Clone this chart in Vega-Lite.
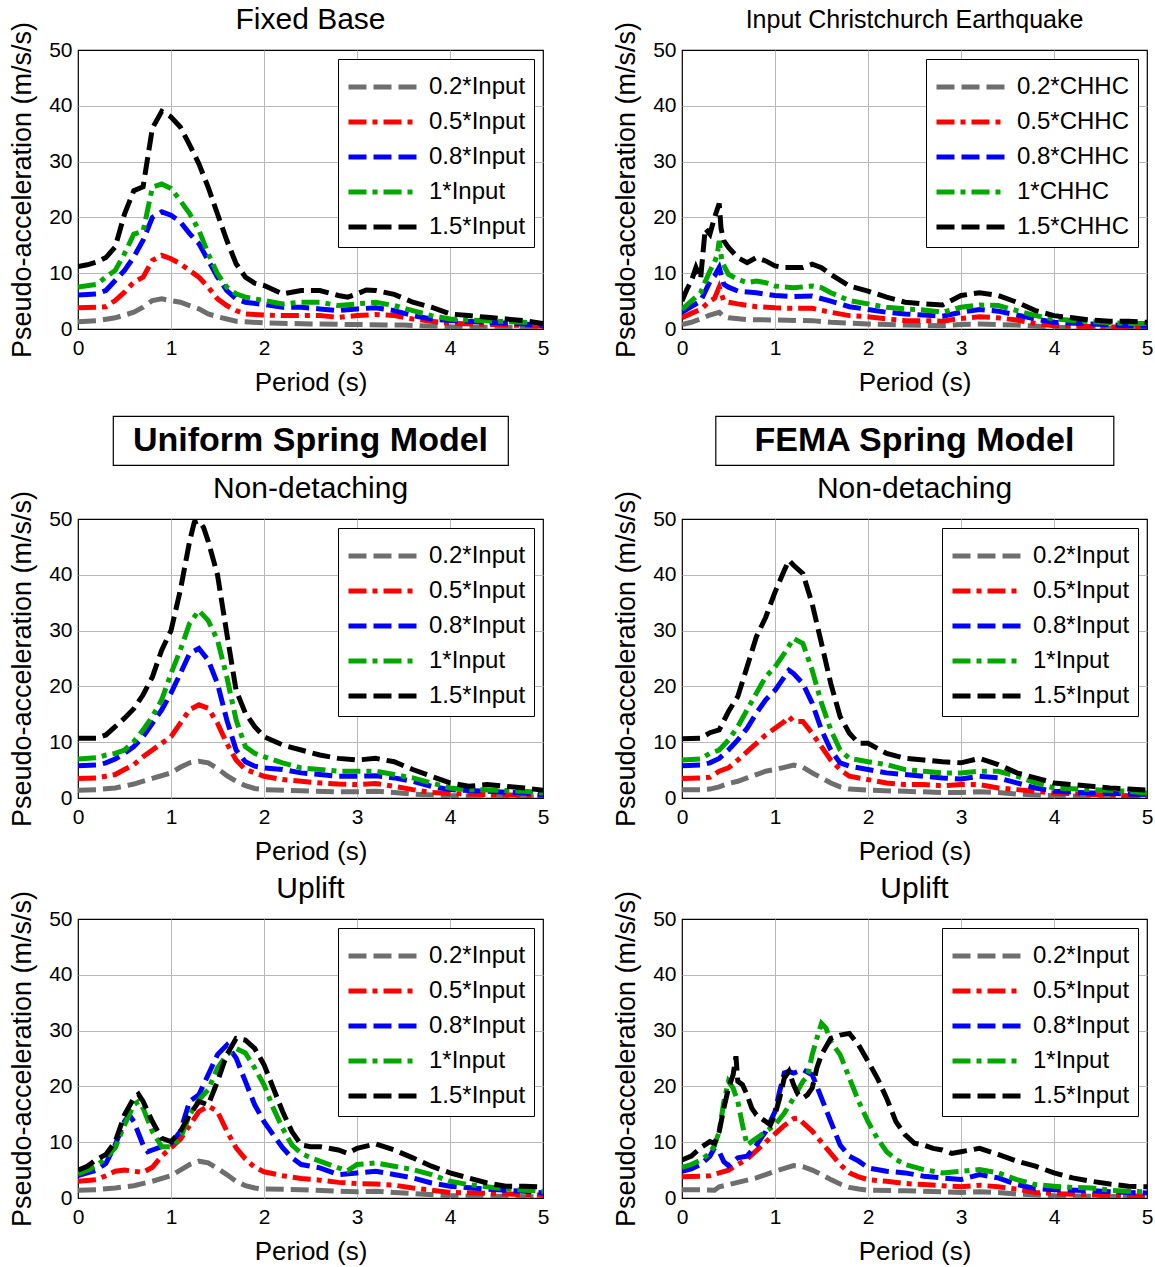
{
"$schema": "https://vega.github.io/schema/vega-lite/v6.json",
"padding": {"left": 8, "top": 4, "right": 5, "bottom": 0},
"background": "white",
"datasets": {
"fixed": [
{"s":"0.2","T":0,"Sa":1.3},{"s":"0.2","T":0.2,"Sa":1.5},{"s":"0.2","T":0.4,"Sa":2.0},{"s":"0.2","T":0.5,"Sa":2.5},{"s":"0.2","T":0.6,"Sa":3.0},{"s":"0.2","T":0.7,"Sa":3.9},{"s":"0.2","T":0.8,"Sa":5.1},{"s":"0.2","T":0.9,"Sa":5.4},{"s":"0.2","T":1.0,"Sa":5.1},{"s":"0.2","T":1.1,"Sa":4.8},{"s":"0.2","T":1.2,"Sa":4.2},{"s":"0.2","T":1.3,"Sa":3.6},{"s":"0.2","T":1.4,"Sa":2.7},{"s":"0.2","T":1.5,"Sa":2.2},{"s":"0.2","T":1.6,"Sa":1.8},{"s":"0.2","T":1.7,"Sa":1.4},{"s":"0.2","T":1.8,"Sa":1.3},{"s":"0.2","T":2.0,"Sa":1.1},{"s":"0.2","T":2.5,"Sa":0.9},{"s":"0.2","T":3.0,"Sa":0.8},{"s":"0.2","T":3.5,"Sa":0.7},{"s":"0.2","T":4.0,"Sa":0.4},{"s":"0.2","T":4.5,"Sa":0.3},{"s":"0.2","T":5.0,"Sa":0.2},
{"s":"0.5","T":0,"Sa":3.8},{"s":"0.5","T":0.2,"Sa":3.9},{"s":"0.5","T":0.3,"Sa":4.0},{"s":"0.5","T":0.4,"Sa":5.1},{"s":"0.5","T":0.5,"Sa":6.6},{"s":"0.5","T":0.6,"Sa":8.4},{"s":"0.5","T":0.7,"Sa":9.3},{"s":"0.5","T":0.8,"Sa":12.3},{"s":"0.5","T":0.9,"Sa":13.2},{"s":"0.5","T":1.0,"Sa":12.6},{"s":"0.5","T":1.1,"Sa":11.7},{"s":"0.5","T":1.2,"Sa":10.5},{"s":"0.5","T":1.3,"Sa":9.3},{"s":"0.5","T":1.4,"Sa":7.5},{"s":"0.5","T":1.5,"Sa":5.4},{"s":"0.5","T":1.6,"Sa":4.2},{"s":"0.5","T":1.7,"Sa":3.3},{"s":"0.5","T":1.8,"Sa":2.7},{"s":"0.5","T":2.0,"Sa":2.5},{"s":"0.5","T":2.2,"Sa":2.4},{"s":"0.5","T":2.4,"Sa":2.4},{"s":"0.5","T":2.6,"Sa":2.4},{"s":"0.5","T":2.8,"Sa":2.1},{"s":"0.5","T":3.0,"Sa":2.4},{"s":"0.5","T":3.2,"Sa":2.6},{"s":"0.5","T":3.4,"Sa":2.4},{"s":"0.5","T":3.6,"Sa":1.8},{"s":"0.5","T":3.8,"Sa":1.4},{"s":"0.5","T":4.0,"Sa":1.0},{"s":"0.5","T":4.5,"Sa":0.8},{"s":"0.5","T":5.0,"Sa":0.5},
{"s":"0.8","T":0,"Sa":6.1},{"s":"0.8","T":0.2,"Sa":6.3},{"s":"0.8","T":0.3,"Sa":6.9},{"s":"0.8","T":0.4,"Sa":8.7},{"s":"0.8","T":0.5,"Sa":10.5},{"s":"0.8","T":0.6,"Sa":12.9},{"s":"0.8","T":0.7,"Sa":15.9},{"s":"0.8","T":0.8,"Sa":20.0},{"s":"0.8","T":0.9,"Sa":21.0},{"s":"0.8","T":1.0,"Sa":20.4},{"s":"0.8","T":1.1,"Sa":19.2},{"s":"0.8","T":1.2,"Sa":17.1},{"s":"0.8","T":1.3,"Sa":15.3},{"s":"0.8","T":1.4,"Sa":12.3},{"s":"0.8","T":1.5,"Sa":9.3},{"s":"0.8","T":1.6,"Sa":6.9},{"s":"0.8","T":1.7,"Sa":5.4},{"s":"0.8","T":1.8,"Sa":4.8},{"s":"0.8","T":2.0,"Sa":4.4},{"s":"0.8","T":2.2,"Sa":3.9},{"s":"0.8","T":2.4,"Sa":3.9},{"s":"0.8","T":2.6,"Sa":3.6},{"s":"0.8","T":2.8,"Sa":3.3},{"s":"0.8","T":3.0,"Sa":3.6},{"s":"0.8","T":3.2,"Sa":3.8},{"s":"0.8","T":3.4,"Sa":3.3},{"s":"0.8","T":3.6,"Sa":2.4},{"s":"0.8","T":3.8,"Sa":1.8},{"s":"0.8","T":4.0,"Sa":1.5},{"s":"0.8","T":4.4,"Sa":1.2},{"s":"0.8","T":4.8,"Sa":0.9},{"s":"0.8","T":5.0,"Sa":0.6},
{"s":"1","T":0,"Sa":7.5},{"s":"1","T":0.2,"Sa":8.0},{"s":"1","T":0.3,"Sa":9.3},{"s":"1","T":0.4,"Sa":10.5},{"s":"1","T":0.5,"Sa":13.5},{"s":"1","T":0.6,"Sa":17.0},{"s":"1","T":0.7,"Sa":17.5},{"s":"1","T":0.8,"Sa":25.4},{"s":"1","T":0.9,"Sa":26.0},{"s":"1","T":1.0,"Sa":25.2},{"s":"1","T":1.1,"Sa":23.0},{"s":"1","T":1.2,"Sa":20.7},{"s":"1","T":1.3,"Sa":17.7},{"s":"1","T":1.4,"Sa":13.5},{"s":"1","T":1.5,"Sa":9.9},{"s":"1","T":1.6,"Sa":7.5},{"s":"1","T":1.7,"Sa":6.3},{"s":"1","T":1.8,"Sa":5.7},{"s":"1","T":2.0,"Sa":5.1},{"s":"1","T":2.2,"Sa":4.5},{"s":"1","T":2.4,"Sa":4.8},{"s":"1","T":2.6,"Sa":4.8},{"s":"1","T":2.8,"Sa":4.2},{"s":"1","T":3.0,"Sa":4.5},{"s":"1","T":3.2,"Sa":4.8},{"s":"1","T":3.4,"Sa":4.2},{"s":"1","T":3.6,"Sa":3.3},{"s":"1","T":3.8,"Sa":2.4},{"s":"1","T":4.0,"Sa":1.8},{"s":"1","T":4.2,"Sa":1.6},{"s":"1","T":4.5,"Sa":1.4},{"s":"1","T":4.8,"Sa":1.2},{"s":"1","T":5.0,"Sa":1.0},
{"s":"1.5","T":0,"Sa":11.2},{"s":"1.5","T":0.1,"Sa":11.5},{"s":"1.5","T":0.2,"Sa":12.0},{"s":"1.5","T":0.3,"Sa":12.8},{"s":"1.5","T":0.4,"Sa":14.7},{"s":"1.5","T":0.5,"Sa":20.6},{"s":"1.5","T":0.6,"Sa":24.8},{"s":"1.5","T":0.7,"Sa":25.5},{"s":"1.5","T":0.8,"Sa":36.0},{"s":"1.5","T":0.9,"Sa":39.0},{"s":"1.5","T":1.0,"Sa":38.0},{"s":"1.5","T":1.1,"Sa":36.2},{"s":"1.5","T":1.2,"Sa":33.0},{"s":"1.5","T":1.3,"Sa":29.6},{"s":"1.5","T":1.4,"Sa":25.4},{"s":"1.5","T":1.5,"Sa":20.6},{"s":"1.5","T":1.6,"Sa":15.9},{"s":"1.5","T":1.7,"Sa":11.7},{"s":"1.5","T":1.8,"Sa":9.3},{"s":"1.5","T":1.9,"Sa":8.2},{"s":"1.5","T":2.0,"Sa":7.8},{"s":"1.5","T":2.2,"Sa":6.3},{"s":"1.5","T":2.4,"Sa":6.9},{"s":"1.5","T":2.6,"Sa":6.9},{"s":"1.5","T":2.8,"Sa":6.0},{"s":"1.5","T":2.9,"Sa":5.7},{"s":"1.5","T":3.0,"Sa":6.3},{"s":"1.5","T":3.1,"Sa":7.0},{"s":"1.5","T":3.2,"Sa":6.9},{"s":"1.5","T":3.4,"Sa":6.2},{"s":"1.5","T":3.6,"Sa":4.8},{"s":"1.5","T":3.8,"Sa":3.9},{"s":"1.5","T":4.0,"Sa":2.7},{"s":"1.5","T":4.2,"Sa":2.4},{"s":"1.5","T":4.4,"Sa":2.1},{"s":"1.5","T":4.6,"Sa":1.8},{"s":"1.5","T":4.8,"Sa":1.5},{"s":"1.5","T":5.0,"Sa":1.0}
],
"chhc": [
{"s":"0.2","T":0,"Sa":0.8},{"s":"0.2","T":0.1,"Sa":1.2},{"s":"0.2","T":0.2,"Sa":1.8},{"s":"0.2","T":0.3,"Sa":2.5},{"s":"0.2","T":0.4,"Sa":3.0},{"s":"0.2","T":0.45,"Sa":2.2},{"s":"0.2","T":0.5,"Sa":2.0},{"s":"0.2","T":0.7,"Sa":1.7},{"s":"0.2","T":1.0,"Sa":1.6},{"s":"0.2","T":1.4,"Sa":1.5},{"s":"0.2","T":1.6,"Sa":1.2},{"s":"0.2","T":2.0,"Sa":0.9},{"s":"0.2","T":2.4,"Sa":0.7},{"s":"0.2","T":2.8,"Sa":0.6},{"s":"0.2","T":3.0,"Sa":0.8},{"s":"0.2","T":3.2,"Sa":0.9},{"s":"0.2","T":3.6,"Sa":0.7},{"s":"0.2","T":4.0,"Sa":0.3},{"s":"0.2","T":4.5,"Sa":0.2},{"s":"0.2","T":5.0,"Sa":0.1},
{"s":"0.5","T":0,"Sa":2.0},{"s":"0.5","T":0.1,"Sa":2.8},{"s":"0.5","T":0.2,"Sa":3.5},{"s":"0.5","T":0.3,"Sa":5.0},{"s":"0.5","T":0.35,"Sa":5.5},{"s":"0.5","T":0.4,"Sa":7.5},{"s":"0.5","T":0.45,"Sa":5.0},{"s":"0.5","T":0.5,"Sa":4.8},{"s":"0.5","T":0.6,"Sa":4.5},{"s":"0.5","T":0.8,"Sa":4.0},{"s":"0.5","T":1.0,"Sa":3.8},{"s":"0.5","T":1.2,"Sa":3.7},{"s":"0.5","T":1.4,"Sa":3.7},{"s":"0.5","T":1.6,"Sa":3.0},{"s":"0.5","T":1.8,"Sa":2.4},{"s":"0.5","T":2.0,"Sa":2.2},{"s":"0.5","T":2.2,"Sa":1.8},{"s":"0.5","T":2.4,"Sa":1.5},{"s":"0.5","T":2.6,"Sa":1.5},{"s":"0.5","T":2.8,"Sa":1.4},{"s":"0.5","T":3.0,"Sa":1.9},{"s":"0.5","T":3.2,"Sa":2.2},{"s":"0.5","T":3.4,"Sa":2.0},{"s":"0.5","T":3.6,"Sa":1.6},{"s":"0.5","T":3.8,"Sa":1.0},{"s":"0.5","T":4.0,"Sa":0.6},{"s":"0.5","T":4.5,"Sa":0.4},{"s":"0.5","T":5.0,"Sa":0.3},
{"s":"0.8","T":0,"Sa":3.0},{"s":"0.8","T":0.1,"Sa":4.0},{"s":"0.8","T":0.2,"Sa":5.0},{"s":"0.8","T":0.3,"Sa":8.5},{"s":"0.8","T":0.35,"Sa":9.5},{"s":"0.8","T":0.4,"Sa":11.0},{"s":"0.8","T":0.45,"Sa":8.0},{"s":"0.8","T":0.5,"Sa":7.5},{"s":"0.8","T":0.6,"Sa":6.8},{"s":"0.8","T":0.8,"Sa":6.5},{"s":"0.8","T":1.0,"Sa":6.0},{"s":"0.8","T":1.2,"Sa":5.8},{"s":"0.8","T":1.4,"Sa":5.9},{"s":"0.8","T":1.6,"Sa":5.0},{"s":"0.8","T":1.8,"Sa":4.0},{"s":"0.8","T":2.0,"Sa":3.5},{"s":"0.8","T":2.2,"Sa":3.0},{"s":"0.8","T":2.4,"Sa":2.7},{"s":"0.8","T":2.6,"Sa":2.5},{"s":"0.8","T":2.8,"Sa":2.3},{"s":"0.8","T":3.0,"Sa":3.0},{"s":"0.8","T":3.2,"Sa":3.5},{"s":"0.8","T":3.4,"Sa":3.2},{"s":"0.8","T":3.6,"Sa":2.5},{"s":"0.8","T":3.8,"Sa":1.8},{"s":"0.8","T":4.0,"Sa":1.2},{"s":"0.8","T":4.4,"Sa":0.9},{"s":"0.8","T":4.8,"Sa":0.6},{"s":"0.8","T":5.0,"Sa":0.5},
{"s":"1","T":0,"Sa":3.5},{"s":"1","T":0.1,"Sa":5.0},{"s":"1","T":0.2,"Sa":6.5},{"s":"1","T":0.25,"Sa":8.5},{"s":"1","T":0.3,"Sa":10.4},{"s":"1","T":0.35,"Sa":12.0},{"s":"1","T":0.38,"Sa":13.4},{"s":"1","T":0.4,"Sa":15.8},{"s":"1","T":0.43,"Sa":12.0},{"s":"1","T":0.5,"Sa":9.8},{"s":"1","T":0.6,"Sa":8.9},{"s":"1","T":0.7,"Sa":8.3},{"s":"1","T":0.8,"Sa":8.6},{"s":"1","T":0.9,"Sa":8.3},{"s":"1","T":1.0,"Sa":7.7},{"s":"1","T":1.2,"Sa":7.4},{"s":"1","T":1.4,"Sa":7.7},{"s":"1","T":1.5,"Sa":7.4},{"s":"1","T":1.6,"Sa":6.5},{"s":"1","T":1.8,"Sa":5.1},{"s":"1","T":2.0,"Sa":4.5},{"s":"1","T":2.2,"Sa":3.9},{"s":"1","T":2.4,"Sa":3.6},{"s":"1","T":2.6,"Sa":3.4},{"s":"1","T":2.8,"Sa":3.0},{"s":"1","T":3.0,"Sa":3.9},{"s":"1","T":3.2,"Sa":4.3},{"s":"1","T":3.4,"Sa":4.2},{"s":"1","T":3.6,"Sa":3.3},{"s":"1","T":3.8,"Sa":2.4},{"s":"1","T":4.0,"Sa":1.8},{"s":"1","T":4.4,"Sa":1.3},{"s":"1","T":4.8,"Sa":1.0},{"s":"1","T":5.0,"Sa":1.0},
{"s":"1.5","T":0,"Sa":5.0},{"s":"1.5","T":0.05,"Sa":7.0},{"s":"1.5","T":0.1,"Sa":8.6},{"s":"1.5","T":0.15,"Sa":11.0},{"s":"1.5","T":0.2,"Sa":9.0},{"s":"1.5","T":0.25,"Sa":18.0},{"s":"1.5","T":0.3,"Sa":17.0},{"s":"1.5","T":0.35,"Sa":20.0},{"s":"1.5","T":0.4,"Sa":22.5},{"s":"1.5","T":0.42,"Sa":18.0},{"s":"1.5","T":0.45,"Sa":15.8},{"s":"1.5","T":0.5,"Sa":14.6},{"s":"1.5","T":0.6,"Sa":12.8},{"s":"1.5","T":0.7,"Sa":11.9},{"s":"1.5","T":0.8,"Sa":12.8},{"s":"1.5","T":0.9,"Sa":12.2},{"s":"1.5","T":1.0,"Sa":11.3},{"s":"1.5","T":1.1,"Sa":11.0},{"s":"1.5","T":1.2,"Sa":11.0},{"s":"1.5","T":1.3,"Sa":11.0},{"s":"1.5","T":1.4,"Sa":11.6},{"s":"1.5","T":1.5,"Sa":11.0},{"s":"1.5","T":1.6,"Sa":9.8},{"s":"1.5","T":1.8,"Sa":7.7},{"s":"1.5","T":2.0,"Sa":6.8},{"s":"1.5","T":2.2,"Sa":5.7},{"s":"1.5","T":2.4,"Sa":4.8},{"s":"1.5","T":2.6,"Sa":4.5},{"s":"1.5","T":2.8,"Sa":4.3},{"s":"1.5","T":3.0,"Sa":6.0},{"s":"1.5","T":3.2,"Sa":6.5},{"s":"1.5","T":3.4,"Sa":6.0},{"s":"1.5","T":3.6,"Sa":4.8},{"s":"1.5","T":3.8,"Sa":3.3},{"s":"1.5","T":4.0,"Sa":2.4},{"s":"1.5","T":4.2,"Sa":2.0},{"s":"1.5","T":4.4,"Sa":1.6},{"s":"1.5","T":4.6,"Sa":1.4},{"s":"1.5","T":4.8,"Sa":1.4},{"s":"1.5","T":5.0,"Sa":1.2}
],
"uniNon": [
{"s":"0.2","T":0,"Sa":1.4},{"s":"0.2","T":0.2,"Sa":1.5},{"s":"0.2","T":0.4,"Sa":1.8},{"s":"0.2","T":0.6,"Sa":2.5},{"s":"0.2","T":0.8,"Sa":3.5},{"s":"0.2","T":1.0,"Sa":4.5},{"s":"0.2","T":1.1,"Sa":5.5},{"s":"0.2","T":1.2,"Sa":6.3},{"s":"0.2","T":1.3,"Sa":6.6},{"s":"0.2","T":1.4,"Sa":6.3},{"s":"0.2","T":1.5,"Sa":5.3},{"s":"0.2","T":1.6,"Sa":4.0},{"s":"0.2","T":1.7,"Sa":3.0},{"s":"0.2","T":1.8,"Sa":2.2},{"s":"0.2","T":1.9,"Sa":1.7},{"s":"0.2","T":2.0,"Sa":1.5},{"s":"0.2","T":2.4,"Sa":1.3},{"s":"0.2","T":2.8,"Sa":1.1},{"s":"0.2","T":3.0,"Sa":1.1},{"s":"0.2","T":3.2,"Sa":1.2},{"s":"0.2","T":3.4,"Sa":1.0},{"s":"0.2","T":3.6,"Sa":0.7},{"s":"0.2","T":4.0,"Sa":0.4},{"s":"0.2","T":4.5,"Sa":0.3},{"s":"0.2","T":5.0,"Sa":0.2},
{"s":"0.5","T":0,"Sa":3.5},{"s":"0.5","T":0.2,"Sa":3.6},{"s":"0.5","T":0.4,"Sa":4.2},{"s":"0.5","T":0.5,"Sa":5.1},{"s":"0.5","T":0.6,"Sa":6.0},{"s":"0.5","T":0.7,"Sa":7.4},{"s":"0.5","T":0.8,"Sa":8.6},{"s":"0.5","T":0.9,"Sa":9.8},{"s":"0.5","T":1.0,"Sa":11.0},{"s":"0.5","T":1.1,"Sa":13.4},{"s":"0.5","T":1.2,"Sa":15.8},{"s":"0.5","T":1.3,"Sa":16.7},{"s":"0.5","T":1.4,"Sa":16.1},{"s":"0.5","T":1.5,"Sa":13.4},{"s":"0.5","T":1.6,"Sa":9.8},{"s":"0.5","T":1.7,"Sa":6.8},{"s":"0.5","T":1.8,"Sa":5.1},{"s":"0.5","T":1.9,"Sa":4.5},{"s":"0.5","T":2.0,"Sa":3.9},{"s":"0.5","T":2.2,"Sa":3.3},{"s":"0.5","T":2.4,"Sa":3.0},{"s":"0.5","T":2.6,"Sa":2.7},{"s":"0.5","T":2.8,"Sa":2.5},{"s":"0.5","T":3.0,"Sa":2.4},{"s":"0.5","T":3.2,"Sa":2.6},{"s":"0.5","T":3.4,"Sa":2.1},{"s":"0.5","T":3.6,"Sa":1.5},{"s":"0.5","T":3.8,"Sa":1.0},{"s":"0.5","T":4.0,"Sa":0.8},{"s":"0.5","T":4.5,"Sa":0.6},{"s":"0.5","T":5.0,"Sa":0.4},
{"s":"0.8","T":0,"Sa":5.8},{"s":"0.8","T":0.2,"Sa":5.9},{"s":"0.8","T":0.3,"Sa":6.3},{"s":"0.8","T":0.4,"Sa":7.0},{"s":"0.8","T":0.5,"Sa":8.0},{"s":"0.8","T":0.6,"Sa":9.2},{"s":"0.8","T":0.7,"Sa":11.0},{"s":"0.8","T":0.8,"Sa":13.4},{"s":"0.8","T":0.9,"Sa":15.8},{"s":"0.8","T":1.0,"Sa":18.8},{"s":"0.8","T":1.1,"Sa":22.3},{"s":"0.8","T":1.2,"Sa":25.9},{"s":"0.8","T":1.3,"Sa":26.8},{"s":"0.8","T":1.4,"Sa":24.7},{"s":"0.8","T":1.5,"Sa":20.5},{"s":"0.8","T":1.6,"Sa":14.0},{"s":"0.8","T":1.7,"Sa":8.6},{"s":"0.8","T":1.8,"Sa":6.5},{"s":"0.8","T":1.9,"Sa":5.7},{"s":"0.8","T":2.0,"Sa":5.4},{"s":"0.8","T":2.2,"Sa":5.1},{"s":"0.8","T":2.4,"Sa":4.5},{"s":"0.8","T":2.6,"Sa":4.2},{"s":"0.8","T":2.8,"Sa":3.9},{"s":"0.8","T":3.0,"Sa":3.9},{"s":"0.8","T":3.2,"Sa":4.0},{"s":"0.8","T":3.4,"Sa":3.6},{"s":"0.8","T":3.6,"Sa":3.0},{"s":"0.8","T":3.8,"Sa":2.1},{"s":"0.8","T":4.0,"Sa":1.5},{"s":"0.8","T":4.4,"Sa":1.2},{"s":"0.8","T":4.8,"Sa":0.9},{"s":"0.8","T":5.0,"Sa":0.6},
{"s":"1","T":0,"Sa":7.0},{"s":"1","T":0.2,"Sa":7.2},{"s":"1","T":0.3,"Sa":7.7},{"s":"1","T":0.4,"Sa":8.0},{"s":"1","T":0.5,"Sa":8.6},{"s":"1","T":0.6,"Sa":10.1},{"s":"1","T":0.7,"Sa":12.2},{"s":"1","T":0.8,"Sa":14.6},{"s":"1","T":0.9,"Sa":17.6},{"s":"1","T":1.0,"Sa":22.3},{"s":"1","T":1.1,"Sa":26.5},{"s":"1","T":1.2,"Sa":31.3},{"s":"1","T":1.3,"Sa":33.6},{"s":"1","T":1.4,"Sa":31.8},{"s":"1","T":1.5,"Sa":28.3},{"s":"1","T":1.6,"Sa":21.7},{"s":"1","T":1.7,"Sa":14.0},{"s":"1","T":1.8,"Sa":9.2},{"s":"1","T":1.9,"Sa":8.0},{"s":"1","T":2.0,"Sa":7.4},{"s":"1","T":2.2,"Sa":6.3},{"s":"1","T":2.4,"Sa":5.4},{"s":"1","T":2.6,"Sa":5.1},{"s":"1","T":2.8,"Sa":4.8},{"s":"1","T":3.0,"Sa":4.8},{"s":"1","T":3.2,"Sa":4.8},{"s":"1","T":3.4,"Sa":4.2},{"s":"1","T":3.6,"Sa":3.6},{"s":"1","T":3.8,"Sa":2.7},{"s":"1","T":4.0,"Sa":1.8},{"s":"1","T":4.2,"Sa":1.5},{"s":"1","T":4.5,"Sa":1.4},{"s":"1","T":4.8,"Sa":1.2},{"s":"1","T":5.0,"Sa":0.9},
{"s":"1.5","T":0,"Sa":10.7},{"s":"1.5","T":0.2,"Sa":10.7},{"s":"1.5","T":0.3,"Sa":11.3},{"s":"1.5","T":0.4,"Sa":12.8},{"s":"1.5","T":0.5,"Sa":14.3},{"s":"1.5","T":0.6,"Sa":16.0},{"s":"1.5","T":0.7,"Sa":18.5},{"s":"1.5","T":0.8,"Sa":21.7},{"s":"1.5","T":0.9,"Sa":26.5},{"s":"1.5","T":1.0,"Sa":30.0},{"s":"1.5","T":1.1,"Sa":37.2},{"s":"1.5","T":1.2,"Sa":46.0},{"s":"1.5","T":1.25,"Sa":49.4},{"s":"1.5","T":1.3,"Sa":49.7},{"s":"1.5","T":1.35,"Sa":48.5},{"s":"1.5","T":1.4,"Sa":46.0},{"s":"1.5","T":1.5,"Sa":40.0},{"s":"1.5","T":1.6,"Sa":29.5},{"s":"1.5","T":1.7,"Sa":19.3},{"s":"1.5","T":1.8,"Sa":15.2},{"s":"1.5","T":1.9,"Sa":12.8},{"s":"1.5","T":2.0,"Sa":11.0},{"s":"1.5","T":2.2,"Sa":9.5},{"s":"1.5","T":2.4,"Sa":8.6},{"s":"1.5","T":2.6,"Sa":7.7},{"s":"1.5","T":2.8,"Sa":7.1},{"s":"1.5","T":3.0,"Sa":6.8},{"s":"1.5","T":3.2,"Sa":7.1},{"s":"1.5","T":3.4,"Sa":6.5},{"s":"1.5","T":3.6,"Sa":5.1},{"s":"1.5","T":3.8,"Sa":3.9},{"s":"1.5","T":4.0,"Sa":2.7},{"s":"1.5","T":4.2,"Sa":2.1},{"s":"1.5","T":4.4,"Sa":2.4},{"s":"1.5","T":4.6,"Sa":2.1},{"s":"1.5","T":4.8,"Sa":1.8},{"s":"1.5","T":5.0,"Sa":1.4}
],
"femaNon": [
{"s":"0.2","T":0,"Sa":1.5},{"s":"0.2","T":0.2,"Sa":1.5},{"s":"0.2","T":0.3,"Sa":1.6},{"s":"0.2","T":0.4,"Sa":2.0},{"s":"0.2","T":0.5,"Sa":2.6},{"s":"0.2","T":0.6,"Sa":3.0},{"s":"0.2","T":0.7,"Sa":3.6},{"s":"0.2","T":0.8,"Sa":4.2},{"s":"0.2","T":0.9,"Sa":4.8},{"s":"0.2","T":1.0,"Sa":5.1},{"s":"0.2","T":1.1,"Sa":5.5},{"s":"0.2","T":1.2,"Sa":5.9},{"s":"0.2","T":1.3,"Sa":5.5},{"s":"0.2","T":1.4,"Sa":4.5},{"s":"0.2","T":1.5,"Sa":3.6},{"s":"0.2","T":1.6,"Sa":2.7},{"s":"0.2","T":1.7,"Sa":2.0},{"s":"0.2","T":1.8,"Sa":1.6},{"s":"0.2","T":2.0,"Sa":1.4},{"s":"0.2","T":2.4,"Sa":1.2},{"s":"0.2","T":2.8,"Sa":1.0},{"s":"0.2","T":3.0,"Sa":1.0},{"s":"0.2","T":3.2,"Sa":1.1},{"s":"0.2","T":3.4,"Sa":1.0},{"s":"0.2","T":3.6,"Sa":0.7},{"s":"0.2","T":4.0,"Sa":0.4},{"s":"0.2","T":4.5,"Sa":0.3},{"s":"0.2","T":5.0,"Sa":0.2},
{"s":"0.5","T":0,"Sa":3.5},{"s":"0.5","T":0.2,"Sa":3.6},{"s":"0.5","T":0.3,"Sa":3.7},{"s":"0.5","T":0.4,"Sa":4.8},{"s":"0.5","T":0.5,"Sa":5.4},{"s":"0.5","T":0.6,"Sa":6.8},{"s":"0.5","T":0.7,"Sa":8.3},{"s":"0.5","T":0.8,"Sa":9.8},{"s":"0.5","T":0.9,"Sa":11.3},{"s":"0.5","T":1.0,"Sa":12.5},{"s":"0.5","T":1.1,"Sa":13.7},{"s":"0.5","T":1.15,"Sa":14.6},{"s":"0.5","T":1.2,"Sa":13.7},{"s":"0.5","T":1.3,"Sa":13.7},{"s":"0.5","T":1.4,"Sa":11.6},{"s":"0.5","T":1.5,"Sa":9.2},{"s":"0.5","T":1.6,"Sa":6.8},{"s":"0.5","T":1.7,"Sa":5.1},{"s":"0.5","T":1.8,"Sa":3.9},{"s":"0.5","T":2.0,"Sa":3.3},{"s":"0.5","T":2.2,"Sa":2.7},{"s":"0.5","T":2.4,"Sa":2.4},{"s":"0.5","T":2.6,"Sa":2.4},{"s":"0.5","T":2.8,"Sa":2.2},{"s":"0.5","T":3.0,"Sa":2.4},{"s":"0.5","T":3.2,"Sa":2.4},{"s":"0.5","T":3.4,"Sa":1.8},{"s":"0.5","T":3.6,"Sa":1.5},{"s":"0.5","T":3.8,"Sa":1.2},{"s":"0.5","T":4.0,"Sa":0.9},{"s":"0.5","T":4.5,"Sa":0.6},{"s":"0.5","T":5.0,"Sa":0.3},
{"s":"0.8","T":0,"Sa":5.8},{"s":"0.8","T":0.2,"Sa":5.9},{"s":"0.8","T":0.3,"Sa":6.3},{"s":"0.8","T":0.4,"Sa":7.1},{"s":"0.8","T":0.5,"Sa":8.6},{"s":"0.8","T":0.6,"Sa":10.4},{"s":"0.8","T":0.7,"Sa":12.5},{"s":"0.8","T":0.8,"Sa":15.2},{"s":"0.8","T":0.9,"Sa":17.6},{"s":"0.8","T":1.0,"Sa":19.3},{"s":"0.8","T":1.1,"Sa":21.7},{"s":"0.8","T":1.15,"Sa":22.9},{"s":"0.8","T":1.2,"Sa":22.3},{"s":"0.8","T":1.3,"Sa":20.5},{"s":"0.8","T":1.4,"Sa":17.0},{"s":"0.8","T":1.5,"Sa":12.2},{"s":"0.8","T":1.6,"Sa":8.6},{"s":"0.8","T":1.7,"Sa":6.3},{"s":"0.8","T":1.8,"Sa":5.7},{"s":"0.8","T":2.0,"Sa":5.1},{"s":"0.8","T":2.2,"Sa":4.5},{"s":"0.8","T":2.4,"Sa":4.2},{"s":"0.8","T":2.6,"Sa":3.9},{"s":"0.8","T":2.8,"Sa":3.6},{"s":"0.8","T":3.0,"Sa":3.4},{"s":"0.8","T":3.2,"Sa":3.9},{"s":"0.8","T":3.4,"Sa":3.6},{"s":"0.8","T":3.6,"Sa":2.7},{"s":"0.8","T":3.8,"Sa":1.8},{"s":"0.8","T":4.0,"Sa":1.2},{"s":"0.8","T":4.4,"Sa":0.9},{"s":"0.8","T":5.0,"Sa":0.6},
{"s":"1","T":0,"Sa":6.8},{"s":"1","T":0.2,"Sa":7.0},{"s":"1","T":0.3,"Sa":8.0},{"s":"1","T":0.4,"Sa":8.6},{"s":"1","T":0.5,"Sa":10.4},{"s":"1","T":0.6,"Sa":12.8},{"s":"1","T":0.7,"Sa":15.8},{"s":"1","T":0.8,"Sa":18.8},{"s":"1","T":0.9,"Sa":21.7},{"s":"1","T":1.0,"Sa":23.5},{"s":"1","T":1.1,"Sa":25.9},{"s":"1","T":1.2,"Sa":28.6},{"s":"1","T":1.3,"Sa":27.7},{"s":"1","T":1.4,"Sa":22.9},{"s":"1","T":1.5,"Sa":17.0},{"s":"1","T":1.6,"Sa":12.2},{"s":"1","T":1.7,"Sa":8.6},{"s":"1","T":1.8,"Sa":7.1},{"s":"1","T":1.9,"Sa":6.8},{"s":"1","T":2.0,"Sa":6.5},{"s":"1","T":2.2,"Sa":6.0},{"s":"1","T":2.4,"Sa":5.1},{"s":"1","T":2.6,"Sa":4.8},{"s":"1","T":2.8,"Sa":4.5},{"s":"1","T":3.0,"Sa":4.5},{"s":"1","T":3.2,"Sa":4.8},{"s":"1","T":3.4,"Sa":4.8},{"s":"1","T":3.6,"Sa":3.9},{"s":"1","T":3.8,"Sa":2.7},{"s":"1","T":4.0,"Sa":1.8},{"s":"1","T":4.4,"Sa":1.5},{"s":"1","T":4.8,"Sa":1.2},{"s":"1","T":5.0,"Sa":0.9},
{"s":"1.5","T":0,"Sa":10.6},{"s":"1.5","T":0.2,"Sa":10.7},{"s":"1.5","T":0.3,"Sa":11.7},{"s":"1.5","T":0.4,"Sa":12.2},{"s":"1.5","T":0.5,"Sa":15.5},{"s":"1.5","T":0.6,"Sa":18.2},{"s":"1.5","T":0.7,"Sa":23.5},{"s":"1.5","T":0.8,"Sa":28.9},{"s":"1.5","T":0.9,"Sa":32.4},{"s":"1.5","T":1.0,"Sa":36.9},{"s":"1.5","T":1.1,"Sa":40.8},{"s":"1.5","T":1.15,"Sa":42.6},{"s":"1.5","T":1.2,"Sa":41.7},{"s":"1.5","T":1.3,"Sa":40.2},{"s":"1.5","T":1.4,"Sa":34.8},{"s":"1.5","T":1.5,"Sa":27.7},{"s":"1.5","T":1.6,"Sa":20.5},{"s":"1.5","T":1.7,"Sa":14.6},{"s":"1.5","T":1.8,"Sa":11.6},{"s":"1.5","T":1.9,"Sa":9.8},{"s":"1.5","T":2.0,"Sa":9.8},{"s":"1.5","T":2.2,"Sa":8.0},{"s":"1.5","T":2.4,"Sa":7.1},{"s":"1.5","T":2.6,"Sa":6.8},{"s":"1.5","T":2.8,"Sa":6.5},{"s":"1.5","T":3.0,"Sa":6.3},{"s":"1.5","T":3.2,"Sa":7.1},{"s":"1.5","T":3.4,"Sa":6.0},{"s":"1.5","T":3.6,"Sa":4.5},{"s":"1.5","T":3.8,"Sa":3.6},{"s":"1.5","T":4.0,"Sa":2.7},{"s":"1.5","T":4.2,"Sa":2.4},{"s":"1.5","T":4.4,"Sa":2.1},{"s":"1.5","T":4.6,"Sa":1.8},{"s":"1.5","T":4.8,"Sa":1.6},{"s":"1.5","T":5.0,"Sa":1.4}
],
"uniUp": [
{"s":"0.2","T":0,"Sa":1.4},{"s":"0.2","T":0.2,"Sa":1.5},{"s":"0.2","T":0.4,"Sa":1.8},{"s":"0.2","T":0.6,"Sa":2.2},{"s":"0.2","T":0.8,"Sa":3.0},{"s":"0.2","T":1.0,"Sa":4.0},{"s":"0.2","T":1.1,"Sa":5.0},{"s":"0.2","T":1.2,"Sa":6.0},{"s":"0.2","T":1.3,"Sa":6.6},{"s":"0.2","T":1.4,"Sa":6.3},{"s":"0.2","T":1.5,"Sa":5.3},{"s":"0.2","T":1.6,"Sa":4.2},{"s":"0.2","T":1.7,"Sa":3.0},{"s":"0.2","T":1.8,"Sa":2.2},{"s":"0.2","T":1.9,"Sa":1.8},{"s":"0.2","T":2.0,"Sa":1.6},{"s":"0.2","T":2.4,"Sa":1.5},{"s":"0.2","T":2.8,"Sa":1.2},{"s":"0.2","T":3.0,"Sa":1.1},{"s":"0.2","T":3.2,"Sa":1.2},{"s":"0.2","T":3.4,"Sa":1.0},{"s":"0.2","T":3.6,"Sa":0.8},{"s":"0.2","T":4.0,"Sa":0.4},{"s":"0.2","T":4.5,"Sa":0.3},{"s":"0.2","T":5.0,"Sa":0.2},
{"s":"0.5","T":0,"Sa":3.0},{"s":"0.5","T":0.2,"Sa":3.3},{"s":"0.5","T":0.3,"Sa":4.0},{"s":"0.5","T":0.4,"Sa":4.8},{"s":"0.5","T":0.5,"Sa":5.0},{"s":"0.5","T":0.6,"Sa":4.8},{"s":"0.5","T":0.7,"Sa":4.6},{"s":"0.5","T":0.8,"Sa":5.5},{"s":"0.5","T":0.9,"Sa":7.5},{"s":"0.5","T":1.0,"Sa":9.0},{"s":"0.5","T":1.1,"Sa":10.5},{"s":"0.5","T":1.2,"Sa":13.0},{"s":"0.5","T":1.3,"Sa":15.5},{"s":"0.5","T":1.4,"Sa":16.5},{"s":"0.5","T":1.5,"Sa":15.5},{"s":"0.5","T":1.6,"Sa":12.0},{"s":"0.5","T":1.7,"Sa":9.0},{"s":"0.5","T":1.8,"Sa":7.0},{"s":"0.5","T":1.9,"Sa":5.5},{"s":"0.5","T":2.0,"Sa":4.7},{"s":"0.5","T":2.2,"Sa":4.0},{"s":"0.5","T":2.4,"Sa":3.5},{"s":"0.5","T":2.6,"Sa":3.2},{"s":"0.5","T":2.8,"Sa":2.8},{"s":"0.5","T":3.0,"Sa":2.6},{"s":"0.5","T":3.2,"Sa":2.5},{"s":"0.5","T":3.4,"Sa":2.3},{"s":"0.5","T":3.6,"Sa":1.8},{"s":"0.5","T":3.8,"Sa":1.4},{"s":"0.5","T":4.0,"Sa":1.0},{"s":"0.5","T":4.5,"Sa":0.8},{"s":"0.5","T":5.0,"Sa":0.5},
{"s":"0.8","T":0,"Sa":4.0},{"s":"0.8","T":0.1,"Sa":4.5},{"s":"0.8","T":0.2,"Sa":5.0},{"s":"0.8","T":0.3,"Sa":6.2},{"s":"0.8","T":0.4,"Sa":9.5},{"s":"0.8","T":0.5,"Sa":13.7},{"s":"0.8","T":0.55,"Sa":14.9},{"s":"0.8","T":0.6,"Sa":13.7},{"s":"0.8","T":0.7,"Sa":9.5},{"s":"0.8","T":0.75,"Sa":8.3},{"s":"0.8","T":0.8,"Sa":8.6},{"s":"0.8","T":0.9,"Sa":9.2},{"s":"0.8","T":1.0,"Sa":9.8},{"s":"0.8","T":1.1,"Sa":11.9},{"s":"0.8","T":1.2,"Sa":17.3},{"s":"0.8","T":1.3,"Sa":18.5},{"s":"0.8","T":1.4,"Sa":22.1},{"s":"0.8","T":1.5,"Sa":25.7},{"s":"0.8","T":1.6,"Sa":27.4},{"s":"0.8","T":1.7,"Sa":25.1},{"s":"0.8","T":1.8,"Sa":20.9},{"s":"0.8","T":1.9,"Sa":16.7},{"s":"0.8","T":2.0,"Sa":13.7},{"s":"0.8","T":2.1,"Sa":11.3},{"s":"0.8","T":2.2,"Sa":9.0},{"s":"0.8","T":2.3,"Sa":7.2},{"s":"0.8","T":2.4,"Sa":6.0},{"s":"0.8","T":2.6,"Sa":5.4},{"s":"0.8","T":2.8,"Sa":4.2},{"s":"0.8","T":3.0,"Sa":4.5},{"s":"0.8","T":3.2,"Sa":4.8},{"s":"0.8","T":3.4,"Sa":4.2},{"s":"0.8","T":3.6,"Sa":3.6},{"s":"0.8","T":3.8,"Sa":2.7},{"s":"0.8","T":4.0,"Sa":2.1},{"s":"0.8","T":4.4,"Sa":1.6},{"s":"0.8","T":4.8,"Sa":1.2},{"s":"0.8","T":5.0,"Sa":0.9},
{"s":"1","T":0,"Sa":4.3},{"s":"1","T":0.1,"Sa":5.0},{"s":"1","T":0.2,"Sa":5.8},{"s":"1","T":0.3,"Sa":7.2},{"s":"1","T":0.4,"Sa":9.0},{"s":"1","T":0.5,"Sa":13.1},{"s":"1","T":0.6,"Sa":16.7},{"s":"1","T":0.65,"Sa":17.3},{"s":"1","T":0.7,"Sa":16.1},{"s":"1","T":0.8,"Sa":11.9},{"s":"1","T":0.9,"Sa":9.2},{"s":"1","T":1.0,"Sa":9.2},{"s":"1","T":1.1,"Sa":10.7},{"s":"1","T":1.2,"Sa":14.9},{"s":"1","T":1.3,"Sa":17.6},{"s":"1","T":1.4,"Sa":19.4},{"s":"1","T":1.5,"Sa":23.3},{"s":"1","T":1.6,"Sa":25.7},{"s":"1","T":1.7,"Sa":26.8},{"s":"1","T":1.8,"Sa":26.0},{"s":"1","T":1.9,"Sa":23.3},{"s":"1","T":2.0,"Sa":20.3},{"s":"1","T":2.1,"Sa":16.1},{"s":"1","T":2.2,"Sa":12.5},{"s":"1","T":2.3,"Sa":9.5},{"s":"1","T":2.4,"Sa":8.0},{"s":"1","T":2.5,"Sa":7.2},{"s":"1","T":2.6,"Sa":6.6},{"s":"1","T":2.8,"Sa":5.4},{"s":"1","T":2.9,"Sa":4.9},{"s":"1","T":3.0,"Sa":6.0},{"s":"1","T":3.2,"Sa":6.3},{"s":"1","T":3.4,"Sa":5.7},{"s":"1","T":3.6,"Sa":5.1},{"s":"1","T":3.8,"Sa":4.2},{"s":"1","T":4.0,"Sa":3.0},{"s":"1","T":4.2,"Sa":2.4},{"s":"1","T":4.5,"Sa":1.8},{"s":"1","T":4.8,"Sa":1.4},{"s":"1","T":5.0,"Sa":1.2},
{"s":"1.5","T":0,"Sa":5.0},{"s":"1.5","T":0.1,"Sa":5.7},{"s":"1.5","T":0.2,"Sa":6.9},{"s":"1.5","T":0.3,"Sa":7.8},{"s":"1.5","T":0.4,"Sa":10.1},{"s":"1.5","T":0.5,"Sa":14.9},{"s":"1.5","T":0.6,"Sa":17.9},{"s":"1.5","T":0.65,"Sa":18.6},{"s":"1.5","T":0.7,"Sa":17.3},{"s":"1.5","T":0.8,"Sa":13.7},{"s":"1.5","T":0.9,"Sa":10.7},{"s":"1.5","T":1.0,"Sa":10.1},{"s":"1.5","T":1.1,"Sa":11.9},{"s":"1.5","T":1.2,"Sa":14.9},{"s":"1.5","T":1.3,"Sa":17.3},{"s":"1.5","T":1.4,"Sa":16.7},{"s":"1.5","T":1.5,"Sa":20.9},{"s":"1.5","T":1.6,"Sa":25.7},{"s":"1.5","T":1.7,"Sa":28.6},{"s":"1.5","T":1.8,"Sa":28.3},{"s":"1.5","T":1.9,"Sa":26.8},{"s":"1.5","T":2.0,"Sa":23.9},{"s":"1.5","T":2.1,"Sa":19.7},{"s":"1.5","T":2.2,"Sa":15.5},{"s":"1.5","T":2.3,"Sa":11.9},{"s":"1.5","T":2.4,"Sa":9.5},{"s":"1.5","T":2.5,"Sa":9.2},{"s":"1.5","T":2.6,"Sa":9.2},{"s":"1.5","T":2.8,"Sa":8.6},{"s":"1.5","T":2.9,"Sa":8.0},{"s":"1.5","T":3.0,"Sa":8.9},{"s":"1.5","T":3.2,"Sa":9.7},{"s":"1.5","T":3.4,"Sa":8.6},{"s":"1.5","T":3.6,"Sa":7.2},{"s":"1.5","T":3.8,"Sa":5.7},{"s":"1.5","T":4.0,"Sa":4.5},{"s":"1.5","T":4.2,"Sa":3.6},{"s":"1.5","T":4.4,"Sa":2.7},{"s":"1.5","T":4.6,"Sa":2.1},{"s":"1.5","T":4.8,"Sa":2.1},{"s":"1.5","T":5.0,"Sa":2.0}
],
"femaUp": [
{"s":"0.2","T":0,"Sa":1.5},{"s":"0.2","T":0.2,"Sa":1.5},{"s":"0.2","T":0.35,"Sa":1.4},{"s":"0.2","T":0.4,"Sa":2.0},{"s":"0.2","T":0.5,"Sa":2.4},{"s":"0.2","T":0.6,"Sa":2.8},{"s":"0.2","T":0.7,"Sa":3.2},{"s":"0.2","T":0.8,"Sa":3.6},{"s":"0.2","T":0.9,"Sa":4.2},{"s":"0.2","T":1.0,"Sa":4.8},{"s":"0.2","T":1.1,"Sa":5.3},{"s":"0.2","T":1.2,"Sa":5.8},{"s":"0.2","T":1.3,"Sa":5.6},{"s":"0.2","T":1.4,"Sa":5.0},{"s":"0.2","T":1.5,"Sa":4.2},{"s":"0.2","T":1.6,"Sa":3.3},{"s":"0.2","T":1.7,"Sa":2.5},{"s":"0.2","T":1.8,"Sa":1.9},{"s":"0.2","T":1.9,"Sa":1.6},{"s":"0.2","T":2.0,"Sa":1.4},{"s":"0.2","T":2.4,"Sa":1.3},{"s":"0.2","T":2.8,"Sa":1.1},{"s":"0.2","T":3.0,"Sa":1.0},{"s":"0.2","T":3.2,"Sa":1.1},{"s":"0.2","T":3.4,"Sa":1.0},{"s":"0.2","T":3.6,"Sa":0.7},{"s":"0.2","T":4.0,"Sa":0.4},{"s":"0.2","T":4.5,"Sa":0.3},{"s":"0.2","T":5.0,"Sa":0.2},
{"s":"0.5","T":0,"Sa":3.8},{"s":"0.5","T":0.2,"Sa":3.9},{"s":"0.5","T":0.3,"Sa":4.0},{"s":"0.5","T":0.4,"Sa":4.5},{"s":"0.5","T":0.5,"Sa":5.0},{"s":"0.5","T":0.6,"Sa":6.0},{"s":"0.5","T":0.7,"Sa":7.0},{"s":"0.5","T":0.8,"Sa":8.5},{"s":"0.5","T":0.9,"Sa":10.0},{"s":"0.5","T":1.0,"Sa":11.5},{"s":"0.5","T":1.1,"Sa":13.0},{"s":"0.5","T":1.2,"Sa":14.2},{"s":"0.5","T":1.25,"Sa":14.3},{"s":"0.5","T":1.3,"Sa":13.5},{"s":"0.5","T":1.4,"Sa":12.0},{"s":"0.5","T":1.5,"Sa":10.0},{"s":"0.5","T":1.6,"Sa":8.0},{"s":"0.5","T":1.7,"Sa":6.0},{"s":"0.5","T":1.8,"Sa":4.5},{"s":"0.5","T":1.9,"Sa":3.8},{"s":"0.5","T":2.0,"Sa":3.3},{"s":"0.5","T":2.2,"Sa":3.0},{"s":"0.5","T":2.4,"Sa":2.6},{"s":"0.5","T":2.6,"Sa":2.4},{"s":"0.5","T":2.8,"Sa":2.2},{"s":"0.5","T":3.0,"Sa":2.0},{"s":"0.5","T":3.2,"Sa":2.3},{"s":"0.5","T":3.4,"Sa":2.0},{"s":"0.5","T":3.6,"Sa":1.6},{"s":"0.5","T":3.8,"Sa":1.0},{"s":"0.5","T":4.0,"Sa":0.8},{"s":"0.5","T":4.5,"Sa":0.5},{"s":"0.5","T":5.0,"Sa":0.3},
{"s":"0.8","T":0,"Sa":4.8},{"s":"0.8","T":0.1,"Sa":5.2},{"s":"0.8","T":0.2,"Sa":6.0},{"s":"0.8","T":0.3,"Sa":7.5},{"s":"0.8","T":0.35,"Sa":9.0},{"s":"0.8","T":0.4,"Sa":8.3},{"s":"0.8","T":0.45,"Sa":6.5},{"s":"0.8","T":0.5,"Sa":5.8},{"s":"0.8","T":0.6,"Sa":7.2},{"s":"0.8","T":0.7,"Sa":7.5},{"s":"0.8","T":0.8,"Sa":9.5},{"s":"0.8","T":0.9,"Sa":11.9},{"s":"0.8","T":1.0,"Sa":15.5},{"s":"0.8","T":1.05,"Sa":19.1},{"s":"0.8","T":1.1,"Sa":22.4},{"s":"0.8","T":1.15,"Sa":22.7},{"s":"0.8","T":1.2,"Sa":22.4},{"s":"0.8","T":1.3,"Sa":23.0},{"s":"0.8","T":1.4,"Sa":22.1},{"s":"0.8","T":1.5,"Sa":17.9},{"s":"0.8","T":1.6,"Sa":13.7},{"s":"0.8","T":1.7,"Sa":9.5},{"s":"0.8","T":1.8,"Sa":7.5},{"s":"0.8","T":1.9,"Sa":6.6},{"s":"0.8","T":2.0,"Sa":5.4},{"s":"0.8","T":2.2,"Sa":4.8},{"s":"0.8","T":2.4,"Sa":4.5},{"s":"0.8","T":2.6,"Sa":3.9},{"s":"0.8","T":2.8,"Sa":3.6},{"s":"0.8","T":3.0,"Sa":3.3},{"s":"0.8","T":3.2,"Sa":4.2},{"s":"0.8","T":3.4,"Sa":3.6},{"s":"0.8","T":3.6,"Sa":2.4},{"s":"0.8","T":3.8,"Sa":1.7},{"s":"0.8","T":4.0,"Sa":1.5},{"s":"0.8","T":4.4,"Sa":1.3},{"s":"0.8","T":4.8,"Sa":1.0},{"s":"0.8","T":5.0,"Sa":0.9},
{"s":"1","T":0,"Sa":5.5},{"s":"1","T":0.1,"Sa":6.0},{"s":"1","T":0.2,"Sa":6.8},{"s":"1","T":0.3,"Sa":8.0},{"s":"1","T":0.35,"Sa":9.5},{"s":"1","T":0.4,"Sa":11.9},{"s":"1","T":0.45,"Sa":17.3},{"s":"1","T":0.5,"Sa":20.9},{"s":"1","T":0.55,"Sa":19.7},{"s":"1","T":0.6,"Sa":17.3},{"s":"1","T":0.65,"Sa":13.1},{"s":"1","T":0.7,"Sa":9.5},{"s":"1","T":0.75,"Sa":10.1},{"s":"1","T":0.8,"Sa":10.7},{"s":"1","T":0.9,"Sa":11.9},{"s":"1","T":1.0,"Sa":13.1},{"s":"1","T":1.1,"Sa":15.2},{"s":"1","T":1.2,"Sa":17.9},{"s":"1","T":1.3,"Sa":20.9},{"s":"1","T":1.35,"Sa":21.8},{"s":"1","T":1.4,"Sa":25.7},{"s":"1","T":1.45,"Sa":28.6},{"s":"1","T":1.5,"Sa":31.3},{"s":"1","T":1.55,"Sa":30.4},{"s":"1","T":1.6,"Sa":28.0},{"s":"1","T":1.7,"Sa":25.7},{"s":"1","T":1.8,"Sa":21.5},{"s":"1","T":1.9,"Sa":17.3},{"s":"1","T":2.0,"Sa":13.7},{"s":"1","T":2.1,"Sa":10.7},{"s":"1","T":2.2,"Sa":8.3},{"s":"1","T":2.3,"Sa":6.9},{"s":"1","T":2.4,"Sa":6.0},{"s":"1","T":2.6,"Sa":5.1},{"s":"1","T":2.8,"Sa":4.5},{"s":"1","T":3.0,"Sa":4.8},{"s":"1","T":3.2,"Sa":5.1},{"s":"1","T":3.4,"Sa":4.5},{"s":"1","T":3.6,"Sa":3.3},{"s":"1","T":3.8,"Sa":2.4},{"s":"1","T":4.0,"Sa":2.1},{"s":"1","T":4.2,"Sa":1.9},{"s":"1","T":4.4,"Sa":1.8},{"s":"1","T":4.6,"Sa":1.4},{"s":"1","T":4.8,"Sa":1.2},{"s":"1","T":5.0,"Sa":1.1},
{"s":"1.5","T":0,"Sa":6.8},{"s":"1.5","T":0.1,"Sa":7.5},{"s":"1.5","T":0.2,"Sa":9.0},{"s":"1.5","T":0.3,"Sa":10.1},{"s":"1.5","T":0.35,"Sa":9.8},{"s":"1.5","T":0.4,"Sa":11.9},{"s":"1.5","T":0.45,"Sa":16.1},{"s":"1.5","T":0.5,"Sa":19.7},{"s":"1.5","T":0.55,"Sa":22.1},{"s":"1.5","T":0.58,"Sa":25.4},{"s":"1.5","T":0.6,"Sa":20.9},{"s":"1.5","T":0.65,"Sa":20.3},{"s":"1.5","T":0.7,"Sa":18.5},{"s":"1.5","T":0.75,"Sa":16.1},{"s":"1.5","T":0.8,"Sa":14.9},{"s":"1.5","T":0.9,"Sa":13.7},{"s":"1.5","T":0.95,"Sa":13.1},{"s":"1.5","T":1.0,"Sa":14.9},{"s":"1.5","T":1.05,"Sa":17.9},{"s":"1.5","T":1.1,"Sa":21.5},{"s":"1.5","T":1.15,"Sa":22.7},{"s":"1.5","T":1.2,"Sa":20.3},{"s":"1.5","T":1.25,"Sa":18.5},{"s":"1.5","T":1.3,"Sa":17.9},{"s":"1.5","T":1.35,"Sa":18.5},{"s":"1.5","T":1.4,"Sa":19.7},{"s":"1.5","T":1.45,"Sa":23.3},{"s":"1.5","T":1.5,"Sa":25.7},{"s":"1.5","T":1.6,"Sa":28.6},{"s":"1.5","T":1.7,"Sa":29.2},{"s":"1.5","T":1.8,"Sa":29.5},{"s":"1.5","T":1.9,"Sa":27.4},{"s":"1.5","T":2.0,"Sa":24.5},{"s":"1.5","T":2.1,"Sa":21.5},{"s":"1.5","T":2.2,"Sa":17.9},{"s":"1.5","T":2.3,"Sa":13.7},{"s":"1.5","T":2.4,"Sa":11.3},{"s":"1.5","T":2.5,"Sa":9.8},{"s":"1.5","T":2.6,"Sa":9.5},{"s":"1.5","T":2.7,"Sa":8.9},{"s":"1.5","T":2.8,"Sa":8.6},{"s":"1.5","T":2.9,"Sa":8.0},{"s":"1.5","T":3.0,"Sa":8.3},{"s":"1.5","T":3.2,"Sa":8.9},{"s":"1.5","T":3.4,"Sa":7.8},{"s":"1.5","T":3.6,"Sa":6.6},{"s":"1.5","T":3.8,"Sa":5.7},{"s":"1.5","T":4.0,"Sa":4.5},{"s":"1.5","T":4.2,"Sa":3.6},{"s":"1.5","T":4.4,"Sa":3.0},{"s":"1.5","T":4.6,"Sa":2.5},{"s":"1.5","T":4.8,"Sa":2.1},{"s":"1.5","T":5.0,"Sa":2.0}
]
},
"spacing": 19,
"resolve": {"scale": {"color": "independent", "strokeDash": "independent"}, "legend": {"color": "independent", "strokeDash": "independent"}},
"vconcat": [
{
"hconcat": [
{"width": 465, "height": 279, "view": {"stroke": "black", "strokeWidth": 1.2}, "title": "Fixed Base", "data": {"name": "fixed"}, "mark": {"type": "line", "clip": true},
 "encoding": {
  "x": {"field": "T", "type": "quantitative", "title": "Period (s)", "scale": {"domain": [0, 5], "nice": false}, "axis": {"values": [0, 1, 2, 3, 4, 5], "gridOpacity": {"condition": {"test": "datum.value <= 0 || datum.value >= 5", "value": 0}, "value": 1}}},
  "y": {"field": "Sa", "type": "quantitative", "title": "Pseudo-acceleration (m/s/s)", "scale": {"domain": [0, 50], "nice": false}, "axis": {"values": [0, 10, 20, 30, 40, 50], "gridOpacity": {"condition": {"test": "datum.value <= 0 || datum.value >= 50", "value": 0}, "value": 1}}},
  "color": {"field": "s", "type": "nominal", "scale": {"domain": ["0.2", "0.5", "0.8", "1", "1.5"], "range": ["#6e6e6e", "#ff0000", "#0000ff", "#00a800", "#000000"]}, "legend": {"title": null, "labelExpr": "datum.label + '*Input'"}},
  "strokeDash": {"field": "s", "type": "nominal", "scale": {"domain": ["0.2", "0.5", "0.8", "1", "1.5"], "range": [[18, 7], [18, 6, 5, 6], [18, 7], [18, 6, 5, 6], [18, 7]]}, "legend": {"title": null, "labelExpr": "datum.label + '*Input'"}}
 }},
{"width": 465, "height": 279, "view": {"stroke": "black", "strokeWidth": 1.2}, "title": {"text": "Input Christchurch Earthquake", "fontSize": 25, "offset": -12}, "data": {"name": "chhc"}, "mark": {"type": "line", "clip": true},
 "encoding": {
  "x": {"field": "T", "type": "quantitative", "title": "Period (s)", "scale": {"domain": [0, 5], "nice": false}, "axis": {"values": [0, 1, 2, 3, 4, 5], "gridOpacity": {"condition": {"test": "datum.value <= 0 || datum.value >= 5", "value": 0}, "value": 1}}},
  "y": {"field": "Sa", "type": "quantitative", "title": "Pseudo-acceleration (m/s/s)", "scale": {"domain": [0, 50], "nice": false}, "axis": {"values": [0, 10, 20, 30, 40, 50], "gridOpacity": {"condition": {"test": "datum.value <= 0 || datum.value >= 50", "value": 0}, "value": 1}}},
  "color": {"field": "s", "type": "nominal", "scale": {"domain": ["0.2", "0.5", "0.8", "1", "1.5"], "range": ["#6e6e6e", "#ff0000", "#0000ff", "#00a800", "#000000"]}, "legend": {"title": null, "labelExpr": "datum.label + '*CHHC'"}},
  "strokeDash": {"field": "s", "type": "nominal", "scale": {"domain": ["0.2", "0.5", "0.8", "1", "1.5"], "range": [[18, 7], [18, 6, 5, 6], [18, 7], [18, 6, 5, 6], [18, 7]]}, "legend": {"title": null, "labelExpr": "datum.label + '*CHHC'"}}
 }}
],
"spacing": 62,
"resolve": {"scale": {"color": "independent", "strokeDash": "independent"}, "legend": {"color": "independent", "strokeDash": "independent"}}
},
{
"vconcat": [
{
"hconcat": [
{"vconcat": [
 {"width": 395, "height": 49, "view": {"stroke": "black", "strokeWidth": 1.2}, "data": {"values": [{"label": "Uniform Spring Model"}]}, "mark": {"type": "text", "fontSize": 34, "fontWeight": "bold", "font": "Liberation Sans", "color": "black"}, "encoding": {"text": {"field": "label", "type": "nominal"}}},
 {"width": 465, "height": 279, "view": {"stroke": "black", "strokeWidth": 1.2}, "title": "Non-detaching", "data": {"name": "uniNon"}, "mark": {"type": "line", "clip": true},
 "encoding": {
  "x": {"field": "T", "type": "quantitative", "title": "Period (s)", "scale": {"domain": [0, 5], "nice": false}, "axis": {"values": [0, 1, 2, 3, 4, 5], "gridOpacity": {"condition": {"test": "datum.value <= 0 || datum.value >= 5", "value": 0}, "value": 1}}},
  "y": {"field": "Sa", "type": "quantitative", "title": "Pseudo-acceleration (m/s/s)", "scale": {"domain": [0, 50], "nice": false}, "axis": {"values": [0, 10, 20, 30, 40, 50], "gridOpacity": {"condition": {"test": "datum.value <= 0 || datum.value >= 50", "value": 0}, "value": 1}}},
  "color": {"field": "s", "type": "nominal", "scale": {"domain": ["0.2", "0.5", "0.8", "1", "1.5"], "range": ["#6e6e6e", "#ff0000", "#0000ff", "#00a800", "#000000"]}, "legend": {"title": null, "labelExpr": "datum.label + '*Input'"}},
  "strokeDash": {"field": "s", "type": "nominal", "scale": {"domain": ["0.2", "0.5", "0.8", "1", "1.5"], "range": [[18, 7], [18, 6, 5, 6], [18, 7], [18, 6, 5, 6], [18, 7]]}, "legend": {"title": null, "labelExpr": "datum.label + '*Input'"}}
 }}
], "bounds": "flush", "center": true, "spacing": 54,
 "resolve": {"scale": {"color": "independent", "strokeDash": "independent"}, "legend": {"color": "independent", "strokeDash": "independent"}}},
{"vconcat": [
 {"width": 398, "height": 49, "view": {"stroke": "black", "strokeWidth": 1.2}, "data": {"values": [{"label": "FEMA Spring Model"}]}, "mark": {"type": "text", "fontSize": 34, "fontWeight": "bold", "font": "Liberation Sans", "color": "black"}, "encoding": {"text": {"field": "label", "type": "nominal"}}},
 {"width": 465, "height": 279, "view": {"stroke": "black", "strokeWidth": 1.2}, "title": "Non-detaching", "data": {"name": "femaNon"}, "mark": {"type": "line", "clip": true},
 "encoding": {
  "x": {"field": "T", "type": "quantitative", "title": "Period (s)", "scale": {"domain": [0, 5], "nice": false}, "axis": {"values": [0, 1, 2, 3, 4, 5], "gridOpacity": {"condition": {"test": "datum.value <= 0 || datum.value >= 5", "value": 0}, "value": 1}}},
  "y": {"field": "Sa", "type": "quantitative", "title": "Pseudo-acceleration (m/s/s)", "scale": {"domain": [0, 50], "nice": false}, "axis": {"values": [0, 10, 20, 30, 40, 50], "gridOpacity": {"condition": {"test": "datum.value <= 0 || datum.value >= 50", "value": 0}, "value": 1}}},
  "color": {"field": "s", "type": "nominal", "scale": {"domain": ["0.2", "0.5", "0.8", "1", "1.5"], "range": ["#6e6e6e", "#ff0000", "#0000ff", "#00a800", "#000000"]}, "legend": {"title": null, "labelExpr": "datum.label + '*Input'"}},
  "strokeDash": {"field": "s", "type": "nominal", "scale": {"domain": ["0.2", "0.5", "0.8", "1", "1.5"], "range": [[18, 7], [18, 6, 5, 6], [18, 7], [18, 6, 5, 6], [18, 7]]}, "legend": {"title": null, "labelExpr": "datum.label + '*Input'"}}
 }}
], "bounds": "flush", "center": true, "spacing": 54,
 "resolve": {"scale": {"color": "independent", "strokeDash": "independent"}, "legend": {"color": "independent", "strokeDash": "independent"}}}
],
"spacing": 62,
"resolve": {"scale": {"color": "independent", "strokeDash": "independent"}, "legend": {"color": "independent", "strokeDash": "independent"}}
},
{
"hconcat": [
{"width": 465, "height": 279, "view": {"stroke": "black", "strokeWidth": 1.2}, "title": "Uplift", "data": {"name": "uniUp"}, "mark": {"type": "line", "clip": true},
 "encoding": {
  "x": {"field": "T", "type": "quantitative", "title": "Period (s)", "scale": {"domain": [0, 5], "nice": false}, "axis": {"values": [0, 1, 2, 3, 4, 5], "gridOpacity": {"condition": {"test": "datum.value <= 0 || datum.value >= 5", "value": 0}, "value": 1}}},
  "y": {"field": "Sa", "type": "quantitative", "title": "Pseudo-acceleration (m/s/s)", "scale": {"domain": [0, 50], "nice": false}, "axis": {"values": [0, 10, 20, 30, 40, 50], "gridOpacity": {"condition": {"test": "datum.value <= 0 || datum.value >= 50", "value": 0}, "value": 1}}},
  "color": {"field": "s", "type": "nominal", "scale": {"domain": ["0.2", "0.5", "0.8", "1", "1.5"], "range": ["#6e6e6e", "#ff0000", "#0000ff", "#00a800", "#000000"]}, "legend": {"title": null, "labelExpr": "datum.label + '*Input'"}},
  "strokeDash": {"field": "s", "type": "nominal", "scale": {"domain": ["0.2", "0.5", "0.8", "1", "1.5"], "range": [[18, 7], [18, 6, 5, 6], [18, 7], [18, 6, 5, 6], [18, 7]]}, "legend": {"title": null, "labelExpr": "datum.label + '*Input'"}}
 }},
{"width": 465, "height": 279, "view": {"stroke": "black", "strokeWidth": 1.2}, "title": "Uplift", "data": {"name": "femaUp"}, "mark": {"type": "line", "clip": true},
 "encoding": {
  "x": {"field": "T", "type": "quantitative", "title": "Period (s)", "scale": {"domain": [0, 5], "nice": false}, "axis": {"values": [0, 1, 2, 3, 4, 5], "gridOpacity": {"condition": {"test": "datum.value <= 0 || datum.value >= 5", "value": 0}, "value": 1}}},
  "y": {"field": "Sa", "type": "quantitative", "title": "Pseudo-acceleration (m/s/s)", "scale": {"domain": [0, 50], "nice": false}, "axis": {"values": [0, 10, 20, 30, 40, 50], "gridOpacity": {"condition": {"test": "datum.value <= 0 || datum.value >= 50", "value": 0}, "value": 1}}},
  "color": {"field": "s", "type": "nominal", "scale": {"domain": ["0.2", "0.5", "0.8", "1", "1.5"], "range": ["#6e6e6e", "#ff0000", "#0000ff", "#00a800", "#000000"]}, "legend": {"title": null, "labelExpr": "datum.label + '*Input'"}},
  "strokeDash": {"field": "s", "type": "nominal", "scale": {"domain": ["0.2", "0.5", "0.8", "1", "1.5"], "range": [[18, 7], [18, 6, 5, 6], [18, 7], [18, 6, 5, 6], [18, 7]]}, "legend": {"title": null, "labelExpr": "datum.label + '*Input'"}}
 }}
],
"spacing": 62,
"resolve": {"scale": {"color": "independent", "strokeDash": "independent"}, "legend": {"color": "independent", "strokeDash": "independent"}}
}
],
"spacing": 8,
"resolve": {"scale": {"color": "independent", "strokeDash": "independent"}, "legend": {"color": "independent", "strokeDash": "independent"}}
}
],
"config": {
 "font": "Liberation Sans",
 "view": {"stroke": "black", "strokeWidth": 1.2},
 "axis": {"labelFont": "Liberation Sans", "labelFontSize": 21, "labelColor": "black", "titleFont": "Liberation Sans", "titleFontSize": 26, "titleFontWeight": "normal", "titleColor": "black", "grid": true, "gridColor": "#b9b9b9", "gridWidth": 1, "domain": false, "ticks": false, "labelPadding": 6, "labelFlush": false},
 "axisX": {"labelPadding": 8, "titlePadding": 11},
 "axisY": {"titlePadding": 12, "titleFontSize": 27},
 "legend": {"orient": "top-right", "offset": 9, "padding": 8, "strokeColor": "black", "fillColor": "white", "labelFont": "Liberation Sans", "labelFontSize": 24, "labelColor": "black", "symbolType": "M-1,0H3", "symbolSize": 1225, "symbolStrokeWidth": 5, "rowPadding": 3, "labelOffset": 43, "labelLimit": 300, "cornerRadius": 0},
 "title": {"font": "Liberation Sans", "fontSize": 30, "fontWeight": "normal", "color": "black", "offset": -14, "anchor": "middle"},
 "line": {"strokeWidth": 5, "strokeCap": "butt"}
}
}
